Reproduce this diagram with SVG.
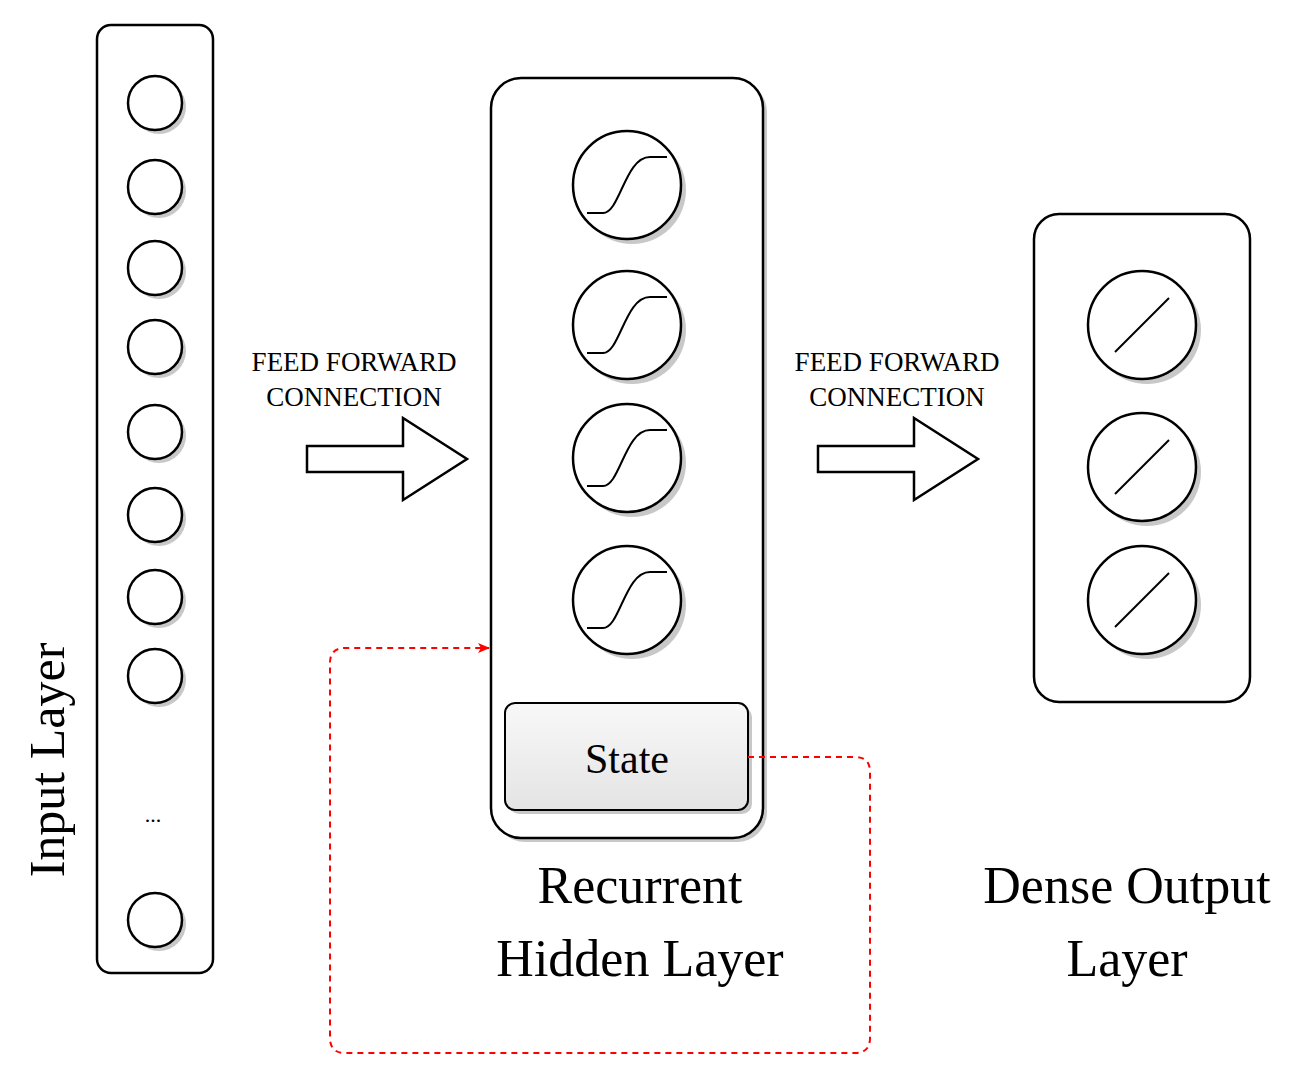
<svg xmlns="http://www.w3.org/2000/svg" width="1310" height="1088" viewBox="0 0 1310 1088">
<style>
.t{font-family:"Liberation Serif",serif;fill:#000}
.n{fill:#fff;stroke:#000;stroke-width:2.5}
.s{fill:#c8c8c8}
.f{fill:none;stroke:#000;stroke-width:2}
</style>
<defs>
<linearGradient id="g" x1="0" y1="0" x2="0" y2="1"><stop offset="0" stop-color="#f8f8f8"/><stop offset="1" stop-color="#e4e4e4"/></linearGradient>
<marker id="ah" markerWidth="12" markerHeight="10" refX="11" refY="5" orient="auto" markerUnits="userSpaceOnUse"><path d="M0,0 L12,5 L0,10 L3,5 Z" fill="#f00"/></marker>
</defs>
<rect width="1310" height="1088" fill="#fff"/>
<g id="input">
<rect x="97" y="25" width="116" height="948" rx="14" class="n"/>
<g class="s"><circle cx="159" cy="107" r="27"/><circle cx="159" cy="191" r="27"/><circle cx="159" cy="272" r="27"/><circle cx="159" cy="351" r="27"/><circle cx="159" cy="436" r="27"/><circle cx="159" cy="519" r="27"/><circle cx="159" cy="601" r="27"/><circle cx="159" cy="680" r="27"/><circle cx="159" cy="924" r="27"/></g>
<g class="n"><circle cx="155" cy="103" r="27"/><circle cx="155" cy="187" r="27"/><circle cx="155" cy="268" r="27"/><circle cx="155" cy="347" r="27"/><circle cx="155" cy="432" r="27"/><circle cx="155" cy="515" r="27"/><circle cx="155" cy="597" r="27"/><circle cx="155" cy="676" r="27"/><circle cx="155" cy="920" r="27"/></g>
<text x="153" y="822" class="t" font-size="22" text-anchor="middle">...</text>
<text transform="translate(64,760) rotate(-90)" class="t" font-size="50" text-anchor="middle">Input Layer</text>
</g>
<g id="hidden">
<rect x="495" y="82" width="272" height="760" rx="30" class="s"/>
<rect x="491" y="78" width="272" height="760" rx="30" class="n"/>
<g class="s"><circle cx="632" cy="190" r="54"/><circle cx="632" cy="330" r="54"/><circle cx="632" cy="463" r="54"/><circle cx="632" cy="605" r="54"/></g>
<g class="n"><circle cx="627" cy="185" r="54"/><circle cx="627" cy="325" r="54"/><circle cx="627" cy="458" r="54"/><circle cx="627" cy="600" r="54"/></g>
<g class="f">
<path d="M587,213 H603 C620,213 625,157 650,157 H667"/>
<path d="M587,353 H603 C620,353 625,297 650,297 H667"/>
<path d="M587,486 H603 C620,486 625,430 650,430 H667"/>
<path d="M587,628 H603 C620,628 625,572 650,572 H667"/>
</g>
<rect x="509" y="707" width="243" height="107" rx="10" class="s"/>
<rect x="505" y="703" width="243" height="107" rx="10" fill="url(#g)" stroke="#000" stroke-width="2"/>
<text x="627" y="773" class="t" font-size="42" text-anchor="middle" fill="#222">State</text>
<text x="640" y="903" class="t" font-size="52" text-anchor="middle">Recurrent</text>
<text x="640" y="976" class="t" font-size="52" text-anchor="middle">Hidden Layer</text>
</g>
<g id="output">
<rect x="1034" y="214" width="216" height="488" rx="25" class="n"/>
<g class="s"><circle cx="1147" cy="330" r="54"/><circle cx="1147" cy="472" r="54"/><circle cx="1147" cy="605" r="54"/></g>
<g class="n"><circle cx="1142" cy="325" r="54"/><circle cx="1142" cy="467" r="54"/><circle cx="1142" cy="600" r="54"/></g>
<g class="f">
<line x1="1115" y1="352" x2="1169" y2="298"/>
<line x1="1115" y1="494" x2="1169" y2="440"/>
<line x1="1115" y1="627" x2="1169" y2="573"/>
</g>
<text x="1127" y="903" class="t" font-size="52" text-anchor="middle">Dense Output</text>
<text x="1127" y="976" class="t" font-size="52" text-anchor="middle">Layer</text>
</g>
<g id="connectors">
<path d="M307,446 H403 V418 L467,459 L403,500 V472 H307 Z" class="n" stroke-width="2"/>
<path d="M818,446 H914 V418 L978,459 L914,500 V472 H818 Z" class="n" stroke-width="2"/>
<text x="354" y="371" class="t" font-size="27" text-anchor="middle">FEED FORWARD</text>
<text x="354" y="406" class="t" font-size="27" text-anchor="middle">CONNECTION</text>
<text x="897" y="371" class="t" font-size="27" text-anchor="middle">FEED FORWARD</text>
<text x="897" y="406" class="t" font-size="27" text-anchor="middle">CONNECTION</text>
<path d="M748,757 H855 Q870,757 870,772 V1038 Q870,1053 855,1053 H345 Q330,1053 330,1038 V663 Q330,648 345,648 H489" fill="none" stroke="#f00" stroke-width="2" stroke-dasharray="6,5" marker-end="url(#ah)"/>
</g>
</svg>
